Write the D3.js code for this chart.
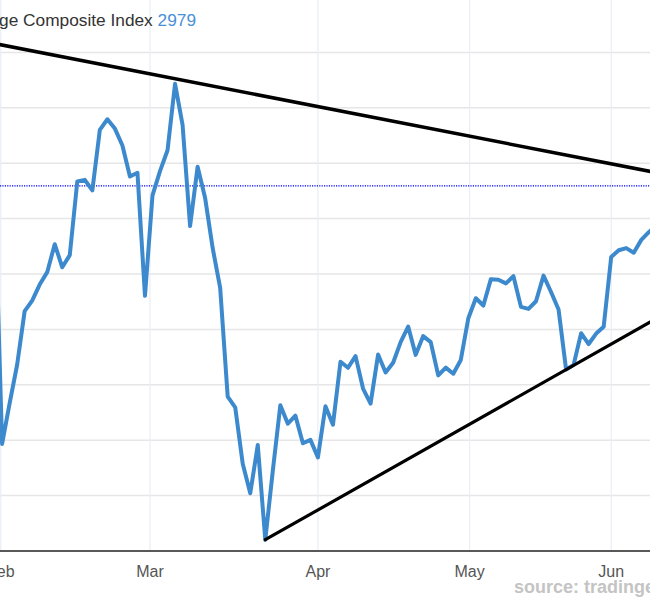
<!DOCTYPE html>
<html>
<head>
<meta charset="utf-8">
<script src="https://cdn.jsdelivr.net/npm/d3@7"></script>
<style>
  html, body { margin: 0; padding: 0; background: #fff; }
  svg { display: block; }
</style>
</head>
<body>
<svg id="chart" width="650" height="600"></svg>
<script>
// ---- data (Shanghai Composite, daily close) ----
const dates = [
  "2020-01-22","2020-01-23",
  "2020-02-03","2020-02-04","2020-02-05","2020-02-06","2020-02-07",
  "2020-02-10","2020-02-11","2020-02-12","2020-02-13","2020-02-14",
  "2020-02-17","2020-02-18","2020-02-19","2020-02-20","2020-02-21",
  "2020-02-24","2020-02-25","2020-02-26","2020-02-27","2020-02-28",
  "2020-03-02","2020-03-03","2020-03-04","2020-03-05","2020-03-06",
  "2020-03-09","2020-03-10","2020-03-11","2020-03-12","2020-03-13",
  "2020-03-16","2020-03-17","2020-03-18","2020-03-19","2020-03-20",
  "2020-03-23","2020-03-24","2020-03-25","2020-03-26","2020-03-27",
  "2020-03-30","2020-03-31","2020-04-01","2020-04-02","2020-04-03",
  "2020-04-07","2020-04-08","2020-04-09","2020-04-10",
  "2020-04-13","2020-04-14","2020-04-15","2020-04-16","2020-04-17",
  "2020-04-20","2020-04-21","2020-04-22","2020-04-23","2020-04-24",
  "2020-04-27","2020-04-28","2020-04-29","2020-04-30",
  "2020-05-06","2020-05-07","2020-05-08",
  "2020-05-11","2020-05-12","2020-05-13","2020-05-14","2020-05-15",
  "2020-05-18","2020-05-19","2020-05-20","2020-05-21","2020-05-22",
  "2020-05-25","2020-05-26","2020-05-27","2020-05-28","2020-05-29",
  "2020-06-01","2020-06-02","2020-06-03","2020-06-04","2020-06-05",
  "2020-06-08","2020-06-09","2020-06-10"
];
const values = [
  3060.75, 2976.53,
  2746.61, 2783.29, 2818.09, 2866.51, 2875.96,
  2890.49, 2901.67, 2926.90, 2906.07, 2917.01,
  2983.62, 2984.97, 2975.40, 3030.15, 3039.67,
  3031.23, 3016.00, 2987.93, 2991.33, 2880.30,
  2970.93, 2992.90, 3011.67, 3071.68, 3034.51,
  2943.29, 2996.76, 2968.52, 2923.49, 2887.43,
  2789.25, 2779.64, 2728.76, 2702.13, 2745.62,
  2660.17, 2722.44, 2781.59, 2764.91, 2772.20,
  2747.21, 2750.30, 2734.52, 2780.64, 2763.99,
  2820.76, 2815.37, 2825.90, 2796.63,
  2783.05, 2827.28, 2811.17, 2819.94, 2838.49,
  2852.55, 2827.01, 2843.98, 2838.50, 2808.53,
  2815.49, 2810.02, 2822.44, 2860.08,
  2878.14, 2871.52, 2895.34,
  2894.80, 2891.56, 2898.05, 2870.34, 2868.46,
  2875.42, 2898.58, 2883.74, 2867.92, 2813.77,
  2817.97, 2846.55, 2836.80, 2846.22, 2852.35,
  2915.43, 2921.40, 2923.37, 2919.25, 2930.80,
  2937.77, 2943.75, 2943.32
];
const lastValue = 2979.55;
const titleText = "Shanghai Stock Exchange Composite Index ";
const sourceText = "source: tradingeconomics.com";
const monthLabels = ["Feb", "Mar", "Apr", "May", "Jun"];
const gridValues = [2700, 2750, 2800, 2850, 2900, 2950, 3000, 3050, 3100];
// trend lines: [date, value] endpoints
const upperTrendDates = ["2020-01-22", "2020-06-10"];
const upperTrendValues = [3109.3, 2990.2];
const lowerTrendDates = ["2020-03-23", "2020-06-10"];
const lowerTrendValues = [2660.17, 2863.6];

// ---- setup ----
const parse = d3.utcParse("%Y-%m-%d");
const times = dates.map(parse);

// ordinal (trading-day) position of any date, interpolated between trading days
function ordIndex(t) {
  const ms = +t;
  for (let i = 0; i < times.length - 1; i++) {
    if (ms >= +times[i] && ms <= +times[i + 1]) {
      return i + (ms - times[i]) / (times[i + 1] - times[i]);
    }
  }
  return ms < +times[0] ? 0 : times.length - 1;
}

const svg = d3.select("#chart");
const W = 650, H = 600;

const x = d3.scaleLinear().domain([2, 83]).range([2.1, 611.2]);
const y = d3.scaleLinear().domain([2650, 3100]).range([551, 52.4]);

// horizontal grid
svg.append("g").selectAll("line").data(gridValues).join("line")
  .attr("x1", 0).attr("x2", W)
  .attr("y1", d => y(d)).attr("y2", d => y(d))
  .attr("stroke", "#e6e6e6").attr("stroke-width", 1.5);

// month ticks
const months = d3.utcMonth.range(parse("2020-01-24"), parse("2020-06-10"));
const monthPos = months.map(m => ordIndex(m));

svg.append("g").selectAll("line").data(monthPos).join("line")
  .attr("x1", d => x(d)).attr("x2", d => x(d))
  .attr("y1", 0).attr("y2", y(2650))
  .attr("stroke", "#e8eef5").attr("stroke-width", 1.2);

// last value dotted line
svg.append("line")
  .attr("x1", 0).attr("x2", W)
  .attr("y1", y(lastValue)).attr("y2", y(lastValue))
  .attr("stroke", "#0000ee").attr("stroke-width", 1.2)
  .attr("stroke-dasharray", "1.2,1.2");

// x axis line
svg.append("line")
  .attr("x1", 0).attr("x2", W)
  .attr("y1", y(2650)).attr("y2", y(2650))
  .attr("stroke", "#222").attr("stroke-width", 1.5);

// month labels
svg.append("g").selectAll("text").data(monthPos).join("text")
  .attr("x", d => x(d)).attr("y", 577)
  .attr("text-anchor", "middle")
  .attr("font-family", "'Liberation Sans', Arial, sans-serif")
  .attr("font-size", 16)
  .attr("fill", "#555")
  .text((d, i) => monthLabels[i]);

// data line
const line = d3.line()
  .x((d, i) => x(i))
  .y(d => y(d));
svg.append("path")
  .datum(values)
  .attr("d", line)
  .attr("fill", "none")
  .attr("stroke", "#3d89cd")
  .attr("stroke-width", 4)
  .attr("stroke-linejoin", "round")
  .attr("stroke-linecap", "round");

// trend lines
function trend(ds, vs, w) {
  const pts = ds.map((d, i) => [x(ordIndex(parse(d))), y(vs[i])]);
  svg.append("path")
    .attr("d", d3.line()(pts))
    .attr("fill", "none")
    .attr("stroke", "#000")
    .attr("stroke-width", w)
    .attr("stroke-linecap", "round");
}
trend(upperTrendDates, upperTrendValues, 3.5);
trend(lowerTrendDates, lowerTrendValues, 3.2);

// title
const title = svg.append("text")
  .attr("x", 196).attr("y", 26)
  .attr("text-anchor", "end")
  .attr("font-family", "'Liberation Sans', Arial, sans-serif")
  .attr("font-size", 17.3);
title.append("tspan").attr("fill", "#333").text(titleText);
title.append("tspan").attr("fill", "#4a90d9").text(Math.floor(lastValue));

// source
svg.append("text")
  .attr("x", 514).attr("y", 593)
  .attr("font-family", "'Liberation Sans', Arial, sans-serif")
  .attr("font-size", 18)
  .attr("font-weight", "bold")
  .attr("fill", "#c4c4c4")
  .text(sourceText);
</script>
</body>
</html>
